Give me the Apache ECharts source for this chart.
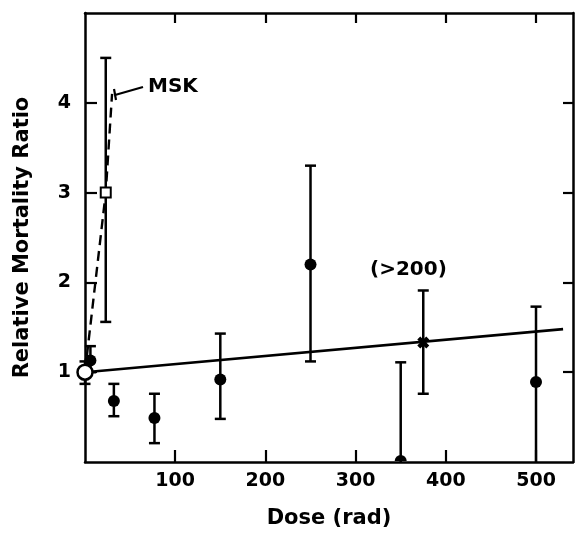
<!DOCTYPE html>
<html>
<head>
<meta charset="utf-8">
<script src="https://cdn.jsdelivr.net/npm/echarts@6/dist/echarts.min.js"></script>
<style>
html,body{margin:0;padding:0;background:#fff;}
#chart{width:576px;height:534px;}
</style>
</head>
<body>
<div id="chart"></div>
<script>
// ---- data ----
const xTickLabels = [100, 200, 300, 400, 500];
const yTickLabels = [1, 2, 3, 4];
// filled circles: [dose, ratio]
const filledPoints = [[6, 1.13], [32, 0.68], [77, 0.49], [150, 0.92], [250, 2.2], [500, 0.89]];
const filledOnAxis = [[350, 0]];
const controlPoint = [[0, 1.0]];
const mskPoint = [[23, 3.0]];
const over200Point = [[375, 1.33]];
// error bars: [dose, low, high]
const errorBars = [
  [0, 0.87, 1.12], [6, 1.0, 1.29], [23, 1.56, 4.5], [32, 0.51, 0.87],
  [77, 0.21, 0.76], [150, 0.48, 1.43], [250, 1.12, 3.3], [350, 0, 1.11],
  [375, 0.76, 1.91], [500, 0, 1.73]
];
const fitLine = [[0, 1.0], [530, 1.48]];
const mskLine = [[0, 1.0], [23, 3.0], [30, 4.1]];

const FONT = 'DejaVu Sans';
const chart = echarts.init(document.getElementById('chart'));

const axisLine = {show: true, onZero: false, lineStyle: {color: '#000', width: 2.5}};
const labelStyle = {color: '#000', fontFamily: FONT, fontWeight: 'bold', fontSize: 19};
const tickStyle = {color: '#000', width: 2.2};

chart.setOption({
  animation: false,
  backgroundColor: '#fff',
  grid: {left: 85, right: 3, top: 13, bottom: 71, show: false},
  xAxis: [{
    type: 'value', min: 0, max: 541, interval: 100, position: 'bottom',
    axisLine: axisLine,
    axisTick: {show: true, inside: true, length: 12, customValues: xTickLabels, lineStyle: tickStyle},
    splitLine: {show: false},
    axisLabel: Object.assign({margin: 10, customValues: xTickLabels, formatter: v => xTickLabels.includes(v) ? String(v) : ''}, labelStyle),
    name: 'Dose (rad)', nameLocation: 'middle', nameGap: 46,
    nameTextStyle: {color: '#000', fontFamily: FONT, fontWeight: 'bold', fontSize: 21}
  }, {
    type: 'value', min: 0, max: 541, interval: 100, position: 'top',
    axisLine: axisLine,
    axisTick: {show: true, inside: true, length: 10, customValues: xTickLabels, lineStyle: tickStyle},
    splitLine: {show: false}, axisLabel: {show: false}
  }],
  yAxis: [{
    type: 'value', min: 0, max: 5, interval: 1, position: 'left',
    axisLine: axisLine,
    axisTick: {show: true, inside: true, length: 12, customValues: yTickLabels, lineStyle: tickStyle},
    splitLine: {show: false},
    axisLabel: Object.assign({margin: 14, customValues: yTickLabels, formatter: v => yTickLabels.includes(v) ? String(v) : ''}, labelStyle),
    name: 'Relative Mortality Ratio', nameLocation: 'middle', nameGap: 52,
    nameTextStyle: {color: '#000', fontFamily: FONT, fontWeight: 'bold', fontSize: 21}
  }, {
    type: 'value', min: 0, max: 5, interval: 1, position: 'right',
    axisLine: axisLine,
    axisTick: {show: true, inside: true, length: 10, customValues: yTickLabels, lineStyle: tickStyle},
    splitLine: {show: false}, axisLabel: {show: false}
  }],
  series: [
    {
      type: 'line', data: fitLine, symbol: 'none', z: 2,
      lineStyle: {color: '#000', width: 2.6}
    },
    {
      type: 'line', data: mskLine, symbol: 'none', z: 2,
      lineStyle: {color: '#000', width: 2.4, type: [10, 6]}
    },
    {
      type: 'custom', data: errorBars, z: 3, clip: false,
      encode: {x: 0, y: [1, 2]},
      renderItem: function (params, api) {
        const x = api.value(0), lo = api.value(1), hi = api.value(2);
        const pLo = api.coord([x, lo]), pHi = api.coord([x, hi]);
        const w = 5.5;
        const st = {stroke: '#000', lineWidth: 2.5};
        const children = [
          {type: 'line', shape: {x1: pLo[0], y1: pLo[1], x2: pHi[0], y2: pHi[1]}, style: st},
          {type: 'line', shape: {x1: pHi[0] - w, y1: pHi[1], x2: pHi[0] + w, y2: pHi[1]}, style: st}
        ];
        if (lo > 0) {
          children.push({type: 'line', shape: {x1: pLo[0] - w, y1: pLo[1], x2: pLo[0] + w, y2: pLo[1]}, style: st});
        }
        return {type: 'group', children: children};
      }
    },
    {
      type: 'scatter', data: filledPoints, symbol: 'circle', symbolSize: 12, z: 5,
      itemStyle: {color: '#000', opacity: 1}
    },
    {
      type: 'custom', data: filledOnAxis, z: 5, clip: false,
      renderItem: function (params, api) {
        const p = api.coord([api.value(0), api.value(1)]);
        return {type: 'sector', shape: {cx: p[0], cy: p[1] - 1, r0: 0, r: 6, startAngle: Math.PI, endAngle: 2 * Math.PI}, style: {fill: '#000'}};
      }
    },
    {
      type: 'scatter', data: controlPoint, symbol: 'circle', symbolSize: 15, z: 6,
      itemStyle: {color: '#fff', borderColor: '#000', borderWidth: 2.5, opacity: 1}
    },
    {
      type: 'scatter', data: mskPoint, symbol: 'rect', symbolSize: 10, z: 6,
      itemStyle: {color: '#fff', borderColor: '#000', borderWidth: 2, opacity: 1}
    },
    {
      type: 'scatter', data: over200Point, z: 6, symbolSize: 12,
      symbol: 'path://M2.5,0 L5,2.5 L7.5,0 L10,2.5 L7.5,5 L10,7.5 L7.5,10 L5,7.5 L2.5,10 L0,7.5 L2.5,5 L0,2.5 Z',
      itemStyle: {color: '#000', opacity: 1}
    }
  ],
  graphic: [
    {type: 'text', left: 370, top: 260, style: {text: '(>200)', fill: '#000', font: 'bold 20px "DejaVu Sans"'}},
    {type: 'text', left: 148, top: 77, style: {text: 'MSK', fill: '#000', font: 'bold 20px "DejaVu Sans"'}},
    {type: 'polyline', shape: {points: [[143, 87], [115, 95]]}, style: {stroke: '#000', lineWidth: 2.2}},
    {type: 'polyline', shape: {points: [[114, 89], [116, 100]]}, style: {stroke: '#000', lineWidth: 2.2}}
  ]
});
</script>
</body>
</html>
